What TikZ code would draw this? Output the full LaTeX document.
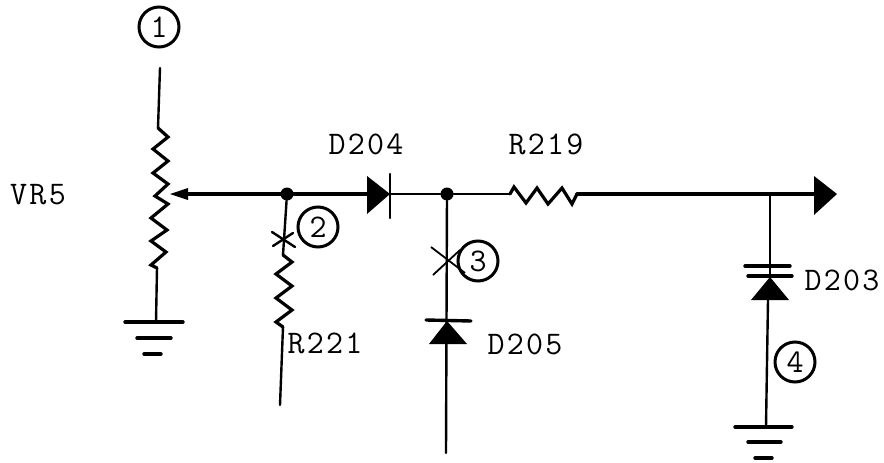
\documentclass[tikz,border=0pt]{standalone}
\usepackage{fontspec}
\newfontfamily\typewr[LetterSpace=7]{Latin Modern Mono}

\begin{document}
\begin{tikzpicture}
[
    x=1pt, y=-1pt,
    wire/.style={line width=2.4pt, line cap=round, line join=round},
    zigzag/.style={line width=3.2pt, line cap=round, line join=miter},
    mainwire/.style={line width=3.4pt, line cap=round, line join=round},
    part/.style={font=\typewr\fontsize{33}{33}\selectfont, inner sep=0pt},
    num/.style={circle, draw, line width=3pt, minimum size=40pt, inner sep=0pt, font=\typewr\fontsize{33}{33}\selectfont},
    dot/.style={circle, fill, minimum size=13pt, inner sep=0pt},
]
\useasboundingbox (0,0) rectangle (884,463);

\node [part] (vr5) at (38,195) {VR5};
\node [part] (d204) at (366,144) {D204};
\node [part] (r219) at (546,144) {R219};
\node [part] (r221) at (325,343) {R221};
\node [part] (d205) at (525,344) {D205};
\node [part] (d203) at (842,280) {D203};

\node [num] (n1) at (159,27) {1};
\node [num] (n2) at (318,227) {2};
\node [num] (n3) at (478,261) {3};
\node [num] (n4) at (795,362) {4};

\node [dot] (j1) at (287,194) {};
\node [dot] (j2) at (447,194) {};

\coordinate (vrtop) at (160,68);
\coordinate (vra) at (158,128);
\coordinate (vrb) at (157,268);
\coordinate (vrgnd) at (156,322);
\coordinate (wiper) at (170,194);
\coordinate (d204a) at (367,194);
\coordinate (d204k) at (390,194);
\coordinate (r219a) at (510,194);
\coordinate (r219b) at (577,194);
\coordinate (outtip) at (815,194);
\coordinate (j3) at (770,194);
\coordinate (d203k) at (770,277);
\coordinate (d203a) at (768,300);
\coordinate (gnd2) at (766,427);
\coordinate (r221a) at (283,255);
\coordinate (r221b) at (283,327);
\coordinate (r221end) at (280,405);
\coordinate (d205k) at (447,321);
\coordinate (d205end) at (446,453);

% pot and its ground
\draw [wire] (vrtop) -- (vra);
\draw [zigzag] (vra) -- ++(10,9) -- ++(-15,12) -- ++(15,12) -- ++(-15,12) -- ++(15,11) -- ++(-13,12) -- ++(13,8)
    -- ++(-17,14) -- ++(16,12) -- ++(-16,11) -- ++(15,11) -- ++(-15,13) -- (vrb);
\draw [wire] (vrb) -- (vrgnd);
\draw [mainwire] (125,322) -- (183,322);
\draw [mainwire] (137,338) -- (171,338);
\draw [mainwire] (144,354) -- (161,354);

% main line
\fill (wiper) -- (188,188) -- (188,200) -- cycle;
\draw [mainwire] (188,194) -- (j1) -- (d204a);
\fill (367,176) -- (d204k) -- (367,214) -- cycle;
\draw [wire] (390,174) -- (390,218);
\draw [wire] (d204k) -- (j2) -- (r219a);
\draw [zigzag] (r219a) -- ++(4,-7) -- ++(12,16) -- ++(11,-15) -- ++(11,16) -- ++(14,-16) -- ++(10,16) -- (r219b);
\draw [mainwire] (r219b) -- (outtip);
\fill (814,176) -- (837,194) -- (814,215) -- cycle;

% R221 branch
\draw [wire] (j1) -- (r221a);
\draw [zigzag] (r221a) -- ++(9,7) -- ++(-16,12) -- ++(16,12) -- ++(-16,12) -- ++(16,12) -- ++(-16,12) -- (r221b);
\draw [wire] (r221b) -- (r221end);
\draw [wire] (272,232) -- (295,247);
\draw [wire] (273,246) -- (293,233);

% D205 branch
\draw [wire] (j2) -- (d205end);
\draw [line width=1.8pt] (431,247) -- (465,273);
\draw [line width=1.8pt] (433,275) -- (460,250);
\draw [mainwire] (426,320) -- (471,321);
\fill (d205k) -- (467,344) -- (429,344) -- cycle;

% D203 branch
\draw [wire] (j3) -- (d203k);
\draw [wire] (d203a) -- (gnd2);
\draw [mainwire] (745,266) -- (790,266);
\draw [mainwire] (748,276) -- (792,276);
\fill (d203k) -- (789,300) -- (751,300) -- cycle;
\draw [mainwire] (735,427) -- (792,427);
\draw [mainwire] (748,442) -- (781,442);
\draw [mainwire] (755,458) -- (772,458);
\end{tikzpicture}
\end{document}
